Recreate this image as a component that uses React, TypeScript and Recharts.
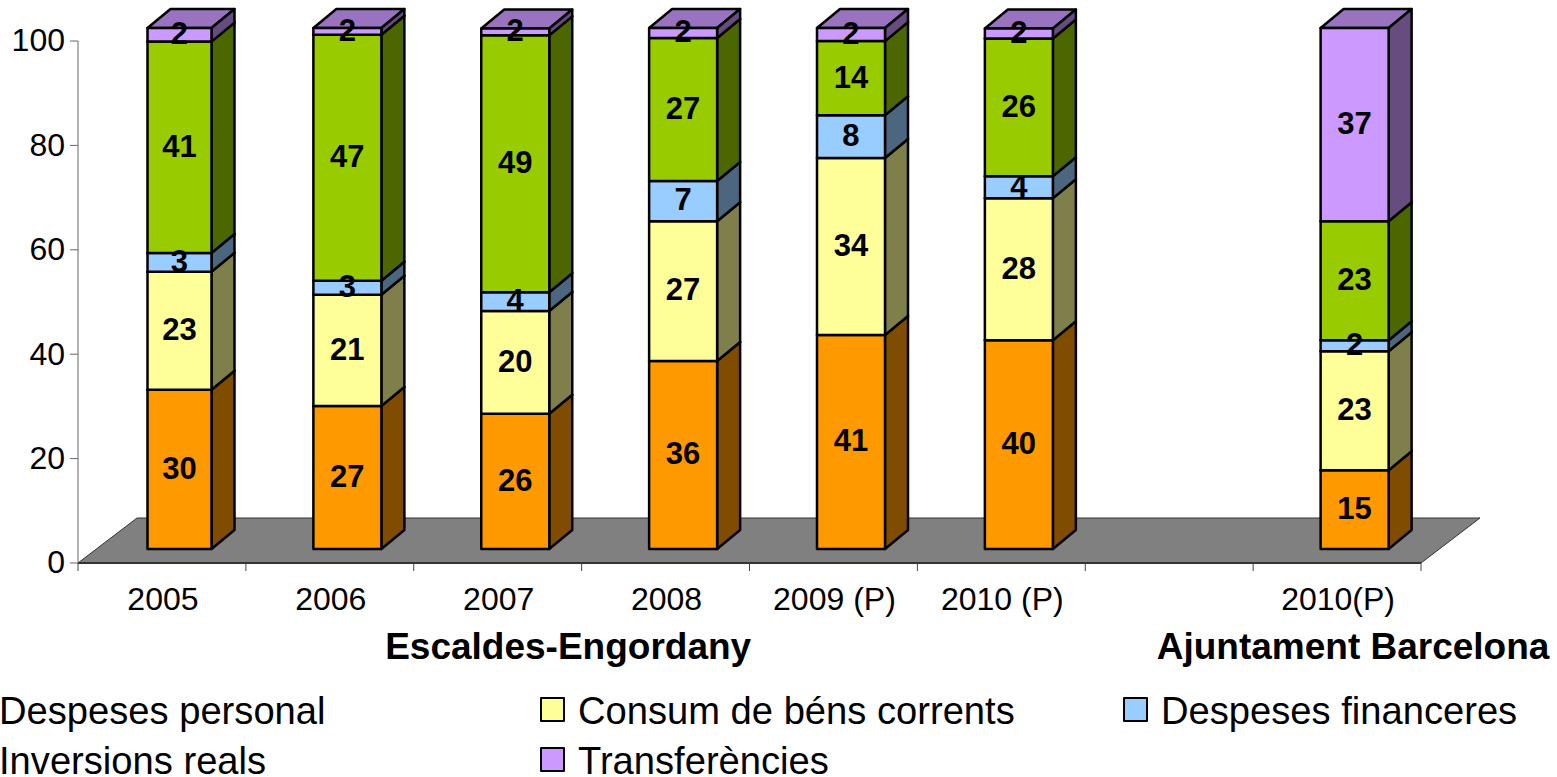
import React from 'react';
import { ComposedChart, Bar, Line, XAxis, YAxis, Legend, usePlotArea } from 'recharts';

const FONT = '"Liberation Sans", Arial, sans-serif';

const categories = ['2005', '2006', '2007', '2008', '2009 (P)', '2010 (P)', ' ', '2010(P)'];
const personal = [30.5, 27.4, 25.9, 36.0, 41.0, 40.0, null, 15.1];
const bens = [22.6, 21.3, 19.7, 26.8, 33.9, 27.2, null, 22.8];
const financeres = [3.6, 2.7, 3.6, 7.7, 8.2, 4.2, null, 2.1];
const inversions = [40.5, 47.1, 49.2, 27.4, 14.2, 26.4, null, 22.8];
const transferencies = [2.6, 1.3, 1.3, 1.9, 2.5, 1.9, null, 37.0];

const personalLabels = [30, 27, 26, 36, 41, 40, null, 15];
const bensLabels = [23, 21, 20, 27, 34, 28, null, 23];
const financeresLabels = [3, 3, 4, 7, 8, 4, null, 2];
const inversionsLabels = [41, 47, 49, 27, 14, 26, null, 23];
const transferenciesLabels = [2, 2, 2, 2, 2, 2, null, 37];

const yTicks = [0, 20, 40, 60, 80, 100];

const seriesDefs = [
  { key: 'personal', name: 'Despeses personal', values: personal, labels: personalLabels, fill: '#FF9900', side: '#7F4C00', top: '#BF7300' },
  { key: 'bens', name: 'Consum de béns corrents', values: bens, labels: bensLabels, fill: '#FFFF99', side: '#7F7F4C', top: '#BFBF73' },
  { key: 'financeres', name: 'Despeses financeres', values: financeres, labels: financeresLabels, fill: '#99CCFF', side: '#4C667F', top: '#7399BF' },
  { key: 'inversions', name: 'Inversions reals', values: inversions, labels: inversionsLabels, fill: '#99CC00', side: '#4C6600', top: '#739900' },
  { key: 'transferencies', name: 'Transferències', values: transferencies, labels: transferenciesLabels, fill: '#CC99FF', side: '#664C7F', top: '#9973BF' },
];

const rows = categories.map((category, i) => {
  const row: any = { category };
  let running = 0;
  seriesDefs.forEach((s) => {
    const v = s.values[i];
    row[s.key] = v;
    row[`${s.key}Mid`] = v == null ? null : running + v / 2;
    running += v ?? 0;
  });
  return row;
});

const SHIFT_X = 17.5;
const SHIFT_Y = 14;
const DEPTH_X = 23;
const DEPTH_Y = 19;
const FIRST_INSET = 2;
const BAND = 167.875;

const Box3D = (def: any) => (props: any) => {
  const { x, y, width, height, index } = props;
  if (x == null || !height || height <= 0) return null;
  const inset = index === 0 ? FIRST_INSET : 0;
  const l = x + SHIFT_X + inset;
  const r = x + SHIFT_X + width - inset;
  const t = y - SHIFT_Y;
  const b = t + height;
  const common = { stroke: '#000', strokeWidth: 2.5, strokeLinejoin: 'round' as const };
  return (
    <g>
      <polygon points={`${l},${t} ${l + DEPTH_X},${t - DEPTH_Y} ${r + DEPTH_X},${t - DEPTH_Y} ${r},${t}`} fill={def.top} {...common} />
      <polygon points={`${r},${t} ${r + DEPTH_X},${t - DEPTH_Y} ${r + DEPTH_X},${b - DEPTH_Y} ${r},${b}`} fill={def.side} {...common} />
      <rect x={l} y={t} width={r - l} height={b - t} fill={def.fill} {...common} />
    </g>
  );
};

const Floor = () => {
  const area = usePlotArea();
  if (!area) return null;
  const x0 = area.x;
  const x1 = area.x + area.width;
  const y0 = area.y + area.height;
  return (
    <polygon
      points={`${x0},${y0} ${x0 + 59},${y0 - 45} ${x1 + 59},${y0 - 45} ${x1},${y0}`}
      fill="#808080"
      stroke="#333"
      strokeWidth={1}
    />
  );
};

const groupLabels: Record<number, { text: string; dx: number }> = {
  2: { text: 'Escaldes-Engordany', dx: 70.5 },
  7: { text: 'Ajuntament Barcelona', dx: 16 },
};

const XTick = (props: any) => {
  const { x, y, payload, index } = props;
  const axisY = y - 14;
  const group = groupLabels[index];
  const isLast = index === categories.length - 1;
  return (
    <g>
      <line x1={x - BAND / 2} x2={x - BAND / 2} y1={axisY} y2={axisY + 8} stroke="#444" strokeWidth={1} />
      {isLast && <line x1={x + BAND / 2} x2={x + BAND / 2} y1={axisY} y2={axisY + 8} stroke="#444" strokeWidth={1} />}
      <text x={x + 1} y={axisY + 47} textAnchor="middle" fontFamily={FONT} fontSize={32} fill="#000">
        {payload.value}
      </text>
      {group && (
        <text x={x + group.dx} y={axisY + 96} textAnchor="middle" fontFamily={FONT} fontSize={37} fontWeight="bold" fill="#000">
          {group.text}
        </text>
      )}
    </g>
  );
};

const ValueLabel = (def: any) => (props: any) => {
  const { x, y, index } = props;
  const text = def.labels[index];
  if (text == null || x == null || y == null) return null;
  return (
    <text
      x={x + SHIFT_X}
      y={y - SHIFT_Y - 1.5}
      dy="0.35em"
      textAnchor="middle"
      fontFamily={FONT}
      fontSize={31}
      fontWeight="bold"
      fill="#000"
    >
      {text}
    </text>
  );
};

const legendCols = [-39, 540, 1123];
const legendRows = [709, 759];

const LegendContent = ({ payload }: any) => {
  const items = seriesDefs
    .map((s) => (payload || []).find((p: any) => p.value === s.name))
    .filter(Boolean);
  return (
    <div style={{ position: 'relative', width: 0, height: 0 }}>
      {items.map((p: any, i: number) => {
        const col = i % 3;
        const row = Math.floor(i / 3);
        return (
          <div key={p.value} style={{ position: 'absolute', left: legendCols[col], top: legendRows[row] - 16, height: 32, whiteSpace: 'nowrap', fontFamily: FONT, fontSize: 38.15, lineHeight: '32px', color: '#000' }}>
            <span style={{ position: 'absolute', left: 0, top: 4, width: 21, height: 21, boxSizing: 'content-box', background: p.color, border: '2px solid #000', borderRadius: 1 }} />
            <span style={{ position: 'absolute', left: 38, top: 2 }}>{p.value}</span>
          </div>
        );
      })}
    </div>
  );
};

export default function App() {
  return (
    <div style={{ position: 'absolute', left: 0, top: 0, width: 1557, height: 777, overflow: 'hidden', background: '#fff' }}>
      <ComposedChart width={1557} height={777} data={rows} margin={{ top: 41, right: 136, bottom: 0, left: 0 }} barCategoryGap={0}>
        <Floor />
        <XAxis
          dataKey="category"
          height={214}
          interval={0}
          axisLine={{ stroke: '#333', strokeWidth: 2 }}
          tickLine={false}
          tick={<XTick />}
          tickMargin={8}
        />
        <YAxis
          domain={[0, 100]}
          ticks={yTicks}
          width={78}
          axisLine={{ stroke: '#666', strokeWidth: 1 }}
          tickLine={{ stroke: '#666', strokeWidth: 1 }}
          tickSize={8}
          tickMargin={5}
          tick={{ fontFamily: FONT, fontSize: 32, fill: '#000', dy: -1 }}
        />
        {seriesDefs.map((s) => (
          <Bar key={s.key} dataKey={s.key} name={s.name} stackId="a" fill={s.fill} barSize={68} shape={Box3D(s)} isAnimationActive={false} />
        ))}
        {seriesDefs.map((s) => (
          <Line key={s.key} dataKey={`${s.key}Mid`} stroke="none" dot={false} activeDot={false} legendType="none" label={ValueLabel(s)} isAnimationActive={false} />
        ))}
        <Legend content={<LegendContent />} wrapperStyle={{ left: 0, top: 0, bottom: 'auto', width: 0, height: 0 }} />
      </ComposedChart>
    </div>
  );
}
